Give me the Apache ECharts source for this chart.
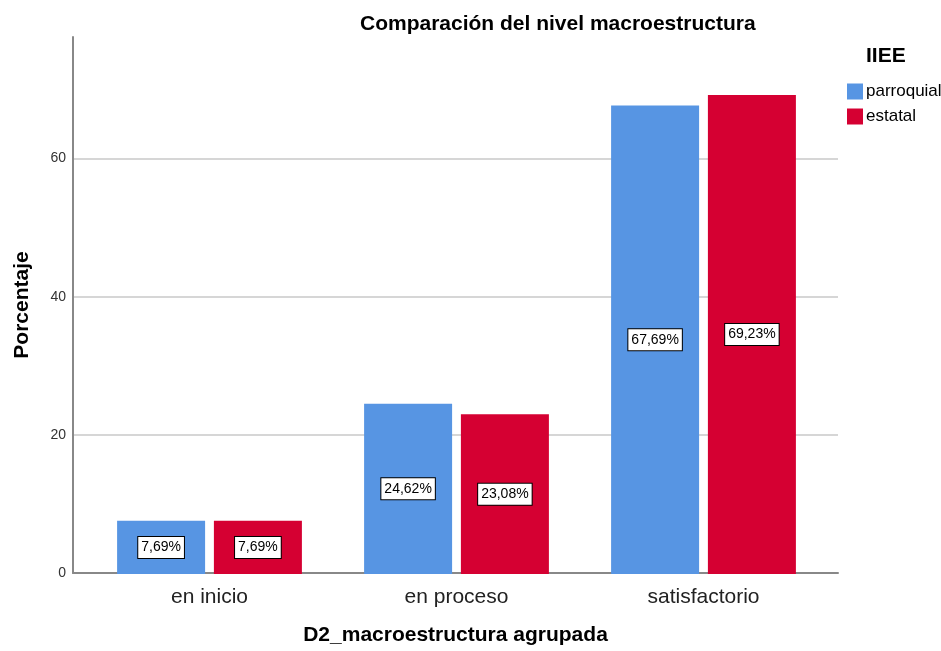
<!DOCTYPE html>
<html>
<head>
<meta charset="utf-8">
<script src="https://cdn.jsdelivr.net/npm/echarts@6/dist/echarts.min.js"></script>
<style>
  html, body { margin: 0; padding: 0; background: #fff; }
  #chart { width: 941px; height: 651px; }
</style>
</head>
<body>
<div id="chart"></div>
<script>
var categories = ['en inicio', 'en proceso', 'satisfactorio'];
var parroquial = [7.69, 24.62, 67.69];
var estatal = [7.69, 23.08, 69.23];
var yTicks = [0, 20, 40, 60];
var yMax = 77.6;

var chart = echarts.init(document.getElementById('chart'));
var FONT = 'Arial, "Liberation Sans", sans-serif';

function labelStyle() {
    return {
        show: true,
        position: 'inside',
        formatter: function (p) {
            return p.value.toFixed(2).replace('.', ',') + '%';
        },
        color: '#000',
        fontSize: 14,
        fontFamily: FONT,
        backgroundColor: '#fff',
        borderColor: '#000',
        borderWidth: 1,
        padding: [4, 3, 3, 3]
    };
}

var option = {
    animation: false,
    textStyle: { fontFamily: FONT },
    title: {
        text: 'Comparación del nivel macroestructura',
        left: 355,
        top: 9,
        textStyle: { fontSize: 21, fontWeight: 'bold', color: '#000' }
    },
    graphic: [{
        type: 'text',
        left: 866,
        top: 46,
        style: { text: 'IIEE', fill: '#000', font: 'bold 21px ' + FONT }
    }],
    legend: {
        orient: 'vertical',
        left: 842,
        top: 78,
        itemWidth: 16,
        itemHeight: 16,
        itemGap: 8,
        icon: 'rect',
        textStyle: { fontSize: 17, color: '#000', padding: [0, 0, 0, -2] },
        data: ['parroquial', 'estatal']
    },
    grid: [
        { left: 73, right: 103, top: 37, bottom: 77 },
        { left: 86, right: 114, top: 37, bottom: 77 }
    ],
    xAxis: [{
        type: 'category',
        gridIndex: 0,
        data: categories,
        name: 'D2_macroestructura agrupada',
        nameLocation: 'middle',
        nameGap: 52,
        nameTextStyle: { fontSize: 21, fontWeight: 'bold', color: '#000' },
        axisLine: { lineStyle: { color: '#888', width: 2 } },
        axisTick: { show: false },
        axisLabel: { show: false }
    }, {
        type: 'category',
        gridIndex: 1,
        data: categories,
        axisLine: { show: false },
        axisTick: { show: false },
        axisLabel: { fontSize: 21, color: '#222', margin: 13 }
    }],
    yAxis: [{
        type: 'value',
        gridIndex: 0,
        min: 0,
        max: yMax,
        interval: 20,
        name: 'Porcentaje',
        nameLocation: 'middle',
        nameGap: 40,
        nameTextStyle: { fontSize: 21, fontWeight: 'bold', color: '#000' },
        axisLine: { show: true, lineStyle: { color: '#888', width: 2 } },
        axisTick: { show: false },
        axisLabel: {
            fontSize: 14, color: '#333', margin: 7,
            showMaxLabel: false,
            formatter: function (v) { return yTicks.indexOf(v) >= 0 ? String(v) : ''; }
        },
        splitLine: { showMaxLine: false, lineStyle: { color: '#c8c8c8', width: 1.5 } }
    }, {
        type: 'value',
        gridIndex: 1,
        min: 0,
        max: yMax,
        show: false,
        splitLine: { show: false }
    }],
    series: [{
        name: 'parroquial',
        type: 'bar',
        xAxisIndex: 1,
        yAxisIndex: 1,
        data: parroquial,
        barWidth: 88,
        barGap: '10%',
        itemStyle: { color: '#5795e3' },
        label: labelStyle()
    }, {
        name: 'estatal',
        type: 'bar',
        xAxisIndex: 1,
        yAxisIndex: 1,
        data: estatal,
        barWidth: 88,
        barGap: '10%',
        itemStyle: { color: '#d50032' },
        label: labelStyle()
    }]
};

chart.setOption(option);
window.onresize = function () { chart.resize(); };
</script>
</body>
</html>
